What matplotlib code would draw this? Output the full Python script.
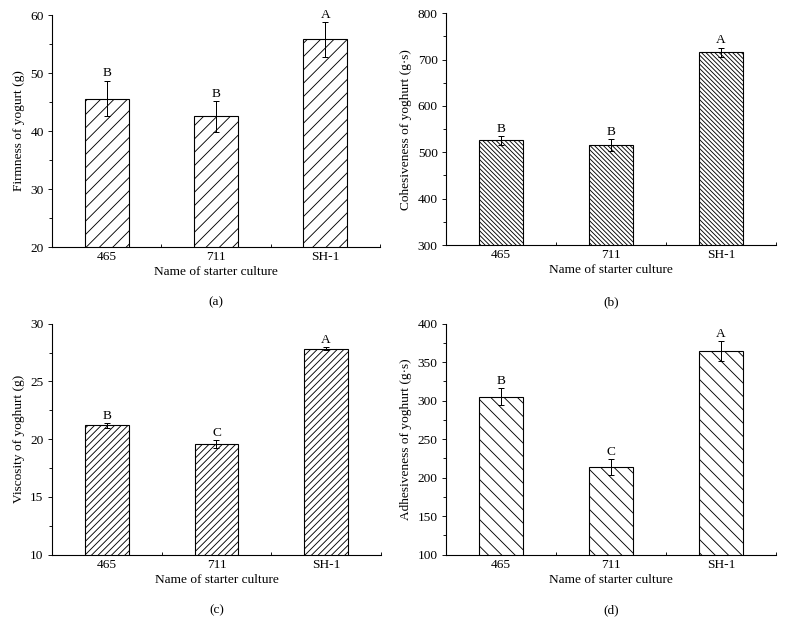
import matplotlib

matplotlib.use("Agg")
import matplotlib.pyplot as plt
import numpy as np
from matplotlib.ticker import FixedLocator, MultipleLocator

plt.rcParams["font.family"] = ["Liberation Serif", "DejaVu Serif"]
plt.rcParams["hatch.linewidth"] = 0.8

# starter cultures on the x axis
cultures = ["465", "711", "SH-1"]

# (a) firmness
firmness = [45.6, 42.5, 55.8]
firmness_err = [3.1, 2.6, 3.0]
firmness_grp = ["B", "B", "A"]

# (b) cohesiveness
cohesiveness = [526, 516, 716]
cohesiveness_err = [10, 13, 10]
cohesiveness_grp = ["B", "B", "A"]

# (c) viscosity
viscosity = [21.2, 19.55, 27.85]
viscosity_err = [0.2, 0.35, 0.12]
viscosity_grp = ["B", "C", "A"]

# (d) adhesiveness
adhesiveness = [305, 214, 365]
adhesiveness_err = [11, 10, 13]
adhesiveness_grp = ["B", "C", "A"]

# dpi 80 keeps the hatch spacing close to the scanned figure
fig = plt.figure(figsize=(786 / 80, 634 / 80), dpi=80)

W, H = 786.0, 634.0


def px_axes(left, top, right, bottom):
    return fig.add_axes([left / W, 1 - bottom / H, (right - left) / W, (bottom - top) / H])


panels = [
    # (box px, values, errors, groups, ylim, ystep, ylabel, hatch, tag, tag y px)
    ((52, 15, 380, 247), firmness, firmness_err, firmness_grp,
     (20, 60), 10, "Firmness of yogurt (g)", "//", "(a)", 302),
    ((446, 13.3, 776, 245), cohesiveness, cohesiveness_err, cohesiveness_grp,
     (300, 800), 100, "Cohesiveness of yoghurt (g\u00b7s)", "\\" * 6, "(b)", 302),
    ((52, 323.7, 381, 554.7), viscosity, viscosity_err, viscosity_grp,
     (10, 30), 5, "Viscosity of yoghurt (g)", "////", "(c)", 610),
    ((446, 323.7, 776, 554.7), adhesiveness, adhesiveness_err, adhesiveness_grp,
     (100, 400), 50, "Adhesiveness of yoghurt (g\u00b7s)", "\\\\", "(d)", 610),
]

x = np.arange(1, len(cultures) + 1)
fs = 12

for box, vals, errs, grps, ylim, ystep, ylabel, hatch, tag, tag_y in panels:
    ax = px_axes(*box)
    ax.bar(x, vals, width=0.4, color="white", edgecolor="black",
           linewidth=1.0, hatch=hatch, zorder=2)
    ax.errorbar(x, vals, yerr=errs, fmt="none", ecolor="black",
                elinewidth=0.9, capsize=2.8, capthick=0.9, zorder=3)
    for xi, v, e, g in zip(x, vals, errs, grps):
        ax.annotate(g, (xi, v + e), xytext=(0, 1), textcoords="offset points",
                    ha="center", va="bottom", fontsize=fs)

    ax.set_xlim(0.5, 3.5)
    ax.set_ylim(*ylim)
    ax.set_xticks(x)
    ax.set_xticklabels(cultures, fontsize=fs)
    ax.xaxis.set_minor_locator(FixedLocator([1.5, 2.5, 3.5]))
    ax.yaxis.set_major_locator(MultipleLocator(ystep))
    ax.yaxis.set_minor_locator(MultipleLocator(ystep / 2))
    ax.tick_params(axis="x", which="both", direction="in", length=3, width=0.8)
    ax.tick_params(axis="y", which="major", direction="out", length=4, width=0.8,
                   labelsize=fs)
    ax.tick_params(axis="y", which="minor", direction="out", length=2.5, width=0.8)
    for side in ("top", "right"):
        ax.spines[side].set_visible(False)
    for side in ("left", "bottom"):
        ax.spines[side].set_linewidth(1.0)

    ax.set_xlabel("Name of starter culture", fontsize=fs, labelpad=3)
    ax.set_ylabel(ylabel, fontsize=fs, labelpad=5)

    cx = (box[0] + box[2]) / 2 / W
    fig.text(cx, 1 - tag_y / H, tag, ha="center", va="center", fontsize=fs)

fig.savefig("out.png", dpi=80)
